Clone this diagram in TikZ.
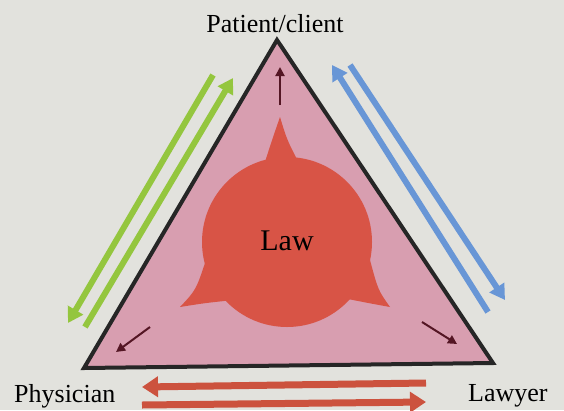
\documentclass[tikz,border=0pt]{standalone}
\usepackage{fontspec}
\setmainfont{Liberation Serif}
\usetikzlibrary{arrows.meta}
\definecolor{bgc}{RGB}{226,226,221}
\definecolor{pinkc}{RGB}{216,158,176}
\definecolor{lawc}{RGB}{216,84,70}
\definecolor{greenc}{RGB}{148,198,62}
\definecolor{bluec}{RGB}{104,150,214}
\definecolor{redc}{RGB}{204,82,62}
\definecolor{darkc}{RGB}{84,22,36}
\tikzset{
  biggreen/.style={draw=greenc,line width=6pt,-{Triangle[width=17pt,length=15pt]}},
  bigblue/.style={draw=bluec,line width=6pt,-{Triangle[width=17pt,length=15pt]}},
  bigred/.style={draw=redc,line width=7pt,-{Triangle[width=20pt,length=16pt]}},
  small/.style={draw=darkc,line width=2pt,-{Triangle[width=9pt,length=9pt]}},
  lbl/.style={font=\fontsize{26}{28}\selectfont,inner sep=0pt}
}
\begin{document}
\begin{tikzpicture}[x=1pt,y=-1pt]
\fill[bgc] (0,0) rectangle (564,410);
\useasboundingbox (0,0) rectangle (564,410);
% triangle
\coordinate (A) at (277,40);
\coordinate (B) at (84,368);
\coordinate (C) at (493,363);
\filldraw[fill=pinkc,draw=black!85,line width=4pt,line join=miter] (A) -- (B) -- (C) -- cycle;
% law blob
\fill[lawc] (264,165) .. controls (272,140) .. (280,117) .. controls (287,140) .. (300,165) -- cycle;
\fill[lawc] (206,260) .. controls (196,290) .. (180,307) .. controls (205,303) .. (234,300) -- cycle;
\fill[lawc] (343,298) .. controls (368,303) .. (390,307) .. controls (378,290) .. (370,260) -- cycle;
\fill[lawc] (287,242) circle[radius=85];
\node[font=\fontsize{30}{32}\selectfont,inner sep=0pt] (law) at (287,241) {Law};
% small arrows
\coordinate (t1) at (280,105); \coordinate (t2) at (280,67);
\coordinate (l1) at (150,327); \coordinate (l2) at (116,352);
\coordinate (r1) at (422,322); \coordinate (r2) at (457,344);
\draw[small] (t1) -- (t2);
\draw[small] (l1) -- (l2);
\draw[small] (r1) -- (r2);
% green arrows
\coordinate (g1) at (213,75); \coordinate (g2) at (68,323);
\coordinate (g3) at (85,327); \coordinate (g4) at (233,78);
\draw[biggreen] (g1) -- (g2);
\draw[biggreen] (g3) -- (g4);
% blue arrows
\coordinate (b1) at (350,65); \coordinate (b2) at (505,300);
\coordinate (b3) at (488,312); \coordinate (b4) at (332,65);
\draw[bigblue] (b1) -- (b2);
\draw[bigblue] (b3) -- (b4);
% red arrows
\coordinate (r3) at (426,383); \coordinate (r4) at (142,387);
\coordinate (r5) at (142,405); \coordinate (r6) at (426,402);
\draw[bigred] (r3) -- (r4);
\draw[bigred] (r5) -- (r6);
% labels
\node[lbl,anchor=base] (pc) at (275,32) {Patient/client};
\node[lbl,anchor=base west] (ph) at (14,402) {Physician};
\node[lbl,anchor=base west] (lw) at (468,401) {Lawyer};
\end{tikzpicture}
\end{document}
